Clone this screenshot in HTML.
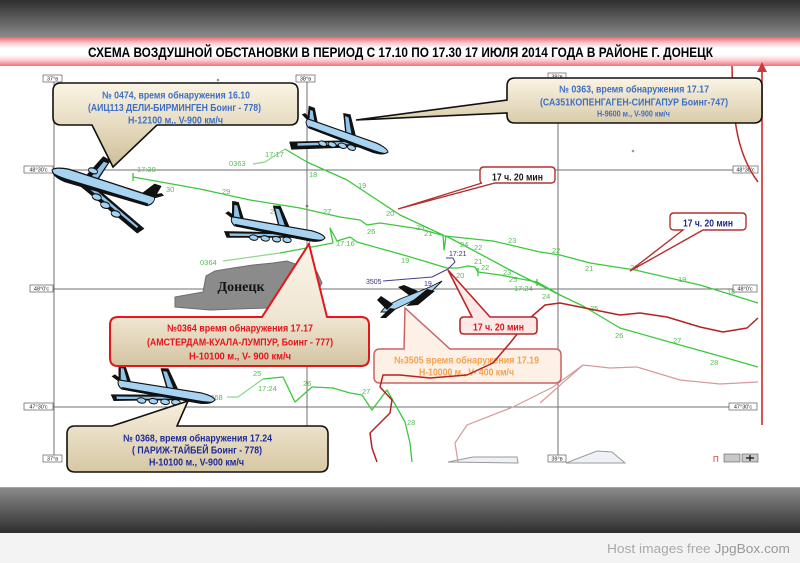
<!DOCTYPE html>
<html><head><meta charset="utf-8"><style>
html,body{margin:0;padding:0;width:800px;height:563px;overflow:hidden;background:#fff}
svg{display:block}
</style></head><body>
<svg width="800" height="563" viewBox="0 0 800 563" xmlns="http://www.w3.org/2000/svg" font-family="'Liberation Sans', sans-serif">
<defs>
<linearGradient id="gTop" x1="0" y1="0" x2="0" y2="1"><stop offset="0" stop-color="#2e2e2e"/><stop offset="1" stop-color="#8a8a8a"/></linearGradient>
<linearGradient id="gBand" x1="0" y1="0" x2="0" y2="1"><stop offset="0" stop-color="#ee5f6c"/><stop offset="0.22" stop-color="#fbd0d3"/><stop offset="0.4" stop-color="#ffffff"/><stop offset="0.62" stop-color="#ffffff"/><stop offset="0.8" stop-color="#fbcdd0"/><stop offset="1" stop-color="#f0707b"/></linearGradient>
<linearGradient id="gBot" x1="0" y1="0" x2="0" y2="1"><stop offset="0" stop-color="#8c8c8c"/><stop offset="1" stop-color="#2e2e2e"/></linearGradient>
<linearGradient id="gB1" gradientUnits="userSpaceOnUse" x1="0" y1="83" x2="0" y2="168"><stop offset="0" stop-color="#fbf4e4"/><stop offset="0.5" stop-color="#e6dbc0"/><stop offset="1" stop-color="#cdbd97"/></linearGradient>
<linearGradient id="gB2" gradientUnits="userSpaceOnUse" x1="0" y1="78" x2="0" y2="124"><stop offset="0" stop-color="#fbf4e4"/><stop offset="1" stop-color="#d9cba8"/></linearGradient>
<linearGradient id="gB3" gradientUnits="userSpaceOnUse" x1="0" y1="244" x2="0" y2="367"><stop offset="0" stop-color="#fbf5ea"/><stop offset="0.6" stop-color="#efe6d2"/><stop offset="1" stop-color="#d3c3a0"/></linearGradient>
<linearGradient id="gB4" gradientUnits="userSpaceOnUse" x1="0" y1="401" x2="0" y2="473"><stop offset="0" stop-color="#f8f0de"/><stop offset="1" stop-color="#d6c7a3"/></linearGradient>
</defs>

<rect x="0" y="0" width="800" height="37" fill="url(#gTop)"/>
<rect x="0" y="37" width="800" height="29" fill="url(#gBand)"/>
<rect x="0" y="66" width="800" height="421" fill="#ffffff"/>
<rect x="0" y="487" width="800" height="46" fill="url(#gBot)"/>
<line x1="0" y1="487.5" x2="800" y2="487.5" stroke="#a5a5a5" stroke-width="1"/>
<rect x="0" y="533" width="800" height="30" fill="#f3f3f3"/>
<text x="607" y="553" font-size="13" fill="#a9a9a9" textLength="183" lengthAdjust="spacingAndGlyphs">Host images free <tspan fill="#999">JpgBox.com</tspan></text>

<text x="88" y="57" font-size="14" font-weight="bold" fill="#000" textLength="625" lengthAdjust="spacingAndGlyphs">СХЕМА ВОЗДУШНОЙ ОБСТАНОВКИ В ПЕРИОД С 17.10  ПО 17.30 17 ИЮЛЯ 2014 ГОДА В РАЙОНЕ Г. ДОНЕЦК</text>

<g stroke="#707070" stroke-width="1" fill="none">
<line x1="54" y1="82" x2="54" y2="455"/>
<line x1="307" y1="82" x2="307" y2="455"/>
<line x1="558" y1="80" x2="558" y2="455"/>
<line x1="53" y1="170" x2="733" y2="170"/>
<line x1="53" y1="289" x2="733" y2="289"/>
<line x1="53" y1="407" x2="729" y2="407"/>
</g>
<g font-size="5.5" text-anchor="middle" fill="#222">
<rect x="43" y="75" width="19" height="7" fill="#fff" stroke="#444" stroke-width="0.6"/><text x="52.5" y="80.5">37°в</text>
<rect x="296" y="75" width="19" height="7" fill="#fff" stroke="#444" stroke-width="0.6"/><text x="305.5" y="80.5">38°в</text>
<rect x="548" y="73" width="18" height="7" fill="#fff" stroke="#444" stroke-width="0.6"/><text x="557" y="78.5">39°в</text>
<rect x="24" y="166" width="29" height="7" fill="#fff" stroke="#444" stroke-width="0.6"/><text x="38.5" y="171.5">48°30'с</text>
<rect x="30" y="285" width="23" height="7" fill="#fff" stroke="#444" stroke-width="0.6"/><text x="41.5" y="290.5">48°0'с</text>
<rect x="24" y="403" width="29" height="7" fill="#fff" stroke="#444" stroke-width="0.6"/><text x="38.5" y="408.5">47°30'с</text>
<rect x="733" y="166" width="25" height="7" fill="#fff" stroke="#444" stroke-width="0.6"/><text x="745.5" y="171.5">48°30'с</text>
<rect x="733" y="285" width="24" height="7" fill="#fff" stroke="#444" stroke-width="0.6"/><text x="745" y="290.5">48°0'с</text>
<rect x="729" y="403" width="28" height="7" fill="#fff" stroke="#444" stroke-width="0.6"/><text x="743" y="408.5">47°30'с</text>
<rect x="43" y="455" width="19" height="7" fill="#fff" stroke="#444" stroke-width="0.6"/><text x="52.5" y="460.5">37°в</text>
<rect x="548" y="455" width="18" height="7" fill="#fff" stroke="#444" stroke-width="0.6"/><text x="557" y="460.5">39°в</text>
</g>
<circle cx="218" cy="80" r="1.3" fill="#999"/>
<circle cx="633" cy="151" r="1.3" fill="#999"/>
<circle cx="307" cy="206" r="1.3" fill="#777"/>

<path d="M448,462 L473,457 L517,457 L518,463 Z" fill="#eef2f7" stroke="#999" stroke-width="1"/>
<path d="M566,463 L597,451 L612,452 L625,463 Z" fill="#eef2f7" stroke="#999" stroke-width="1"/>
<text x="713" y="462" font-size="8" fill="#d03030">П</text>
<rect x="724" y="454" width="16" height="8" fill="#c8c8c8" stroke="#555" stroke-width="0.6"/>
<rect x="742" y="454" width="16" height="8" fill="#c8c8c8" stroke="#555" stroke-width="0.6"/>
<path d="M750,455 V461 M746,458 H754" stroke="#111" stroke-width="1.2"/>

<path d="M175,297 L203,292 L206,276 L215,271 L233,268 L253,265 L273,263 L287,261 L317,272 L322,283 L313,300 L267,308 L210,310 L175,307 Z" fill="#8b8b8b" stroke="#6d6d6d" stroke-width="1"/>
<text x="241" y="291" font-family="'Liberation Serif', serif" font-weight="bold" font-size="14" text-anchor="middle" fill="#111">Донецк</text>

<line x1="762" y1="68" x2="762" y2="425" stroke="#cc2a2a" stroke-width="1.6"/>
<path d="M762,62 L757,72 L767,72 Z" fill="#cc3a3a"/>
<path d="M732,66 C733,110 734,150 758,182" fill="none" stroke="#c02828" stroke-width="1.5"/>
<path d="M540,403 L583,365 L610,368 L637,367 L680,380 L720,384 L758,382" fill="none" stroke="#d69a9a" stroke-width="1.2"/>
<path d="M458,462 L455,443 L467,425 L513,407 L553,387 L583,365" fill="none" stroke="#d69a9a" stroke-width="1.2"/>

<g fill="none" stroke-width="1.3" stroke-linejoin="round">
<path stroke="#3cc83c" d="M133,177 L200,189 L250,200 L300,208 L340,217 L360,220 L367,225 L380,223 L420,229 L445,236 L493,241 L540,252 L560,255 L590,263 L635,270 L700,285 L758,303"/>
<path stroke="#3cc83c" d="M133,173 L133,181"/>
<path stroke="#8fd68f" d="M253,164 L265,162 L285,149"/>
<path stroke="#3cc83c" d="M285,149 L307,162 L347,180 L400,215 L443,235 L444,250 L446,236 L467,247 L510,270 L560,295 L583,306 L620,328 L673,343 L723,357 L758,367"/>
<path stroke="#8fd68f" d="M223,261 L280,253"/>
<path stroke="#3cc83c" d="M280,253 L333,243 L330,228 L337,241 L350,237 L357,242 L407,256 L447,268 L458,268 L468,266 L475,267 L478,272 L500,275 L537,282 L560,295"/>
<path stroke="#3cc83c" d="M478,268 L478,276 M537,279 L537,286"/>
<path stroke="#8fd68f" d="M227,397 L238,397 L263,379"/>
<path stroke="#3cc83c" d="M263,379 L283,377 L295,402 L312,387 L333,388 L350,393 L362,395 L372,410 L387,390 L405,422 L410,443 L412,462"/>
<path stroke="#4a3a8c" stroke-width="1" d="M383,281 L432,277 L448,269 L455,262 L453,258 L446,258"/>
</g>

<g font-size="7.5" fill="#55bd55">
<text x="137" y="172">17:30</text>
<text x="166" y="192">30</text>
<text x="222" y="194">29</text>
<text x="270" y="214">28</text>
<text x="323" y="214">27</text>
<text x="367" y="234">26</text>
<text x="416" y="230">25</text>
<text x="424" y="236">21</text>
<text x="460" y="247">24</text>
<text x="474" y="250">22</text>
<text x="508" y="243">23</text>
<text x="552" y="253">22</text>
<text x="585" y="271">21</text>
<text x="630" y="270">20</text>
<text x="678" y="282">19</text>
<text x="727" y="294">18</text>
<text x="229" y="166">0363</text>
<text x="265" y="157">17:17</text>
<text x="309" y="177">18</text>
<text x="358" y="188">19</text>
<text x="386" y="216">20</text>
<text x="503" y="275">23</text>
<text x="509" y="282">25</text>
<text x="514" y="291">17:24</text>
<text x="542" y="299">24</text>
<text x="590" y="311">25</text>
<text x="615" y="338">26</text>
<text x="673" y="343">27</text>
<text x="710" y="365">28</text>
<text x="200" y="265">0364</text>
<text x="336" y="246">17:16</text>
<text x="401" y="263">19</text>
<text x="474" y="264">21</text>
<text x="481" y="270">22</text>
<text x="456" y="278">20</text>
<text x="206" y="400">0368</text>
<text x="253" y="376">25</text>
<text x="258" y="391">17:24</text>
<text x="303" y="386">26</text>
<text x="362" y="394">27</text>
<text x="407" y="425">28</text>
</g>
<g font-size="7" fill="#3a3088">
<text x="366" y="284">3505</text>
<text x="424" y="286">19</text>
<text x="449" y="256">17:21</text>
</g>

<!-- plane 0363 -->
<g transform="translate(388,152) rotate(19.4) scale(0.92,1.15) translate(-100,0)">
 <path d="M10,-1 L-2,-6 L1,-8 L16,-2 Z" fill="#111"/>
 <path d="M50,-2 L40,-19 L48,-20 L62,-3 Z" fill="#111"/>
 <path d="M51,-3 L43,-17 L47,-17 L57,-3 Z" fill="#8ec3ea"/>
 <path d="M6,-2 L2,-15 L9,-15 L18,-3 Z" fill="#111"/>
 <path d="M8,-3 L5,-12 L8,-12 L14,-3 Z" fill="#8ec3ea"/>
 <path d="M58,1 L-5,20 L0,26 L70,4 Z" fill="#111"/>
 <path d="M56,3 L4,19 L5,21 L60,4 Z" fill="#8ec3ea"/>
 <path d="M6,-4 L85,-4 Q98,-3 100,0 Q97,4 85,4.5 L10,3 Q3,0 6,-4 Z" fill="#a7d3f3" stroke="#111" stroke-width="1"/>
 <path d="M10,1.5 L85,2.5 Q94,2.5 99,1.5 Q96,4.5 85,5 L10,3.5 Z" fill="#111"/>
 <ellipse cx="30" cy="12" rx="4.5" ry="2.2" fill="#a7d3f3" stroke="#111" stroke-width="0.9"/>
 <ellipse cx="40" cy="10" rx="4.5" ry="2.2" fill="#a7d3f3" stroke="#111" stroke-width="0.9"/>
 <ellipse cx="51" cy="8" rx="4.5" ry="2.2" fill="#a7d3f3" stroke="#111" stroke-width="0.9"/>
 <ellipse cx="61" cy="7" rx="4.5" ry="2.2" fill="#a7d3f3" stroke="#111" stroke-width="0.9"/>
</g>
<!-- plane 0364 -->
<g transform="translate(325,238) rotate(10) scale(0.95,1.2) translate(-100,0)">
 <path d="M4,-1 L-8,-6 L-5,-8 L10,-2 Z" fill="#111"/>
 <path d="M50,-2 L40,-19 L48,-20 L62,-3 Z" fill="#111"/>
 <path d="M51,-3 L43,-17 L47,-17 L57,-3 Z" fill="#8ec3ea"/>
 <path d="M0,-2 L-3,-17 L4,-17 L13,-3 Z" fill="#111"/>
 <path d="M2,-3 L0,-14 L3,-14 L9,-3 Z" fill="#8ec3ea"/>
 <path d="M58,1 L-6,9 L-2,14 L70,4 Z" fill="#111"/>
 <path d="M56,3 L0,10 L1,12 L60,4 Z" fill="#8ec3ea"/>
 <path d="M0,-4 L85,-4 Q98,-3 100,0 Q97,4 85,4.5 L4,3 Q-2,0 0,-4 Z" fill="#a7d3f3" stroke="#111" stroke-width="1"/>
 <path d="M4,1.5 L85,2.5 Q94,2.5 99,1.5 Q96,4.5 85,5 L4,3.5 Z" fill="#111"/>
 <ellipse cx="26" cy="10" rx="4.5" ry="2.2" fill="#a7d3f3" stroke="#111" stroke-width="0.9"/>
 <ellipse cx="38" cy="9" rx="4.5" ry="2.2" fill="#a7d3f3" stroke="#111" stroke-width="0.9"/>
 <ellipse cx="50" cy="8" rx="4.5" ry="2.2" fill="#a7d3f3" stroke="#111" stroke-width="0.9"/>
 <ellipse cx="61" cy="7" rx="4.5" ry="2.2" fill="#a7d3f3" stroke="#111" stroke-width="0.9"/>
</g>
<!-- plane 0368 -->
<g transform="translate(215,400) rotate(9) scale(0.98,1.2) translate(-100,0)">
 <path d="M4,-1 L-8,-6 L-5,-8 L10,-2 Z" fill="#111"/>
 <path d="M50,-2 L40,-19 L48,-20 L62,-3 Z" fill="#111"/>
 <path d="M51,-3 L43,-17 L47,-17 L57,-3 Z" fill="#8ec3ea"/>
 <path d="M0,-2 L-3,-17 L4,-17 L13,-3 Z" fill="#111"/>
 <path d="M2,-3 L0,-14 L3,-14 L9,-3 Z" fill="#8ec3ea"/>
 <path d="M58,1 L-6,9 L-2,14 L70,4 Z" fill="#111"/>
 <path d="M56,3 L0,10 L1,12 L60,4 Z" fill="#8ec3ea"/>
 <path d="M0,-4 L85,-4 Q98,-3 100,0 Q97,4 85,4.5 L4,3 Q-2,0 0,-4 Z" fill="#a7d3f3" stroke="#111" stroke-width="1"/>
 <path d="M4,1.5 L85,2.5 Q94,2.5 99,1.5 Q96,4.5 85,5 L4,3.5 Z" fill="#111"/>
 <ellipse cx="26" cy="10" rx="4.5" ry="2.2" fill="#a7d3f3" stroke="#111" stroke-width="0.9"/>
 <ellipse cx="38" cy="9" rx="4.5" ry="2.2" fill="#a7d3f3" stroke="#111" stroke-width="0.9"/>
 <ellipse cx="50" cy="8" rx="4.5" ry="2.2" fill="#a7d3f3" stroke="#111" stroke-width="0.9"/>
 <ellipse cx="61" cy="7" rx="4.5" ry="2.2" fill="#a7d3f3" stroke="#111" stroke-width="0.9"/>
</g>
<!-- plane 0474 -->
<g transform="translate(52,170) rotate(18) scale(-1.06,1.7) translate(-100,0)">
 <path d="M4,-1 L-8,-6 L-5,-7 L10,-2 Z" fill="#111"/>
 <path d="M56,-2 L50,-16 L58,-17 L68,-3 Z" fill="#111"/>
 <path d="M57,-3 L52,-14 L56,-14 L63,-3 Z" fill="#8ec3ea"/>
 <path d="M0,-2 L-3,-11 L4,-11 L13,-3 Z" fill="#111"/>
 <path d="M58,1 L0,16 L5,20 L70,4 Z" fill="#111"/>
 <path d="M56,3 L6,16 L7,17 L60,4 Z" fill="#8ec3ea"/>
 <path d="M0,-3.5 L85,-3.5 Q98,-2.5 100,0 Q97,3.5 85,4 L4,2.5 Q-2,0 0,-3.5 Z" fill="#a7d3f3" stroke="#111" stroke-width="0.8"/>
 <path d="M4,1.2 L85,2.2 Q94,2.2 99,1.2 Q96,4 85,4.5 L4,3 Z" fill="#111"/>
 <ellipse cx="30" cy="13" rx="4.5" ry="1.8" fill="#a7d3f3" stroke="#111" stroke-width="0.7"/>
 <ellipse cx="42" cy="10" rx="4.5" ry="1.8" fill="#a7d3f3" stroke="#111" stroke-width="0.7"/>
 <ellipse cx="52" cy="7" rx="4.5" ry="1.8" fill="#a7d3f3" stroke="#111" stroke-width="0.7"/>
 <ellipse cx="63" cy="-7" rx="4.5" ry="1.6" fill="#a7d3f3" stroke="#111" stroke-width="0.7"/>
</g>
<!-- fighter -->
<g>
 <path d="M418,291 L404,285 L398,287 L410,296 Z" fill="#111"/>
 <path d="M442,281 L430,287 L400,299 L386,306 L381,312 L389,312 L404,305 L432,291 Z" fill="#a7d3f3" stroke="#111" stroke-width="0.9"/>
 <path d="M427,289 L406,306 L418,305 L435,291 Z" fill="#111"/>
 <path d="M393,304 L381,296 L377,300 L387,310 Z" fill="#111"/>
 <path d="M390,308 L380,318 L386,318 L396,309 Z" fill="#111"/>
</g>

<path d="M61,83 H290 Q298,83 298,91 V117 Q298,125 290,125 H157 L113,167 L92,125 H61 Q53,125 53,117 V91 Q53,83 61,83 Z" fill="url(#gB1)" stroke="#111" stroke-width="1.6"/>
<g font-weight="bold" fill="#3d6fc4" font-size="10">
<text x="102" y="98.5" textLength="148" lengthAdjust="spacingAndGlyphs">№ 0474, время обнаружения 16.10</text>
<text x="88" y="111" textLength="173" lengthAdjust="spacingAndGlyphs">(АИЦ113 ДЕЛИ-БИРМИНГЕН Боинг - 778)</text>
<text x="128" y="123.5" textLength="95" lengthAdjust="spacingAndGlyphs">H-12100 м., V-900 км/ч</text>
</g>

<path d="M515,78 H754 Q762,78 762,86 V115 Q762,123 754,123 H515 Q507,123 507,115 V113 L356,120 L507,100 V86 Q507,78 515,78 Z" fill="url(#gB2)" stroke="#111" stroke-width="1.6"/>
<g font-weight="bold" fill="#3d6fc4">
<text x="559" y="92.5" font-size="10" textLength="150" lengthAdjust="spacingAndGlyphs">№ 0363, время обнаружения 17.17</text>
<text x="540" y="105.5" font-size="10" textLength="188" lengthAdjust="spacingAndGlyphs">(СА351КОПЕНГАГЕН-СИНГАПУР Боинг-747)</text>
<text x="597" y="116.5" font-size="8" textLength="73" lengthAdjust="spacingAndGlyphs">H-9600 м., V-900 км/ч</text>
</g>

<path d="M118,317 H262 L309,244 L327,317 H361 Q369,317 369,325 V358 Q369,366 361,366 H118 Q110,366 110,358 V325 Q110,317 118,317 Z" fill="url(#gB3)" stroke="#e4151b" stroke-width="2"/>
<g font-weight="bold" fill="#e4141c" font-size="10">
<text x="167" y="331.5" textLength="146" lengthAdjust="spacingAndGlyphs">№0364 время обнаружения 17.17</text>
<text x="147" y="345.5" textLength="186" lengthAdjust="spacingAndGlyphs">(АМСТЕРДАМ-КУАЛА-ЛУМПУР, Боинг - 777)</text>
<text x="189" y="359.5" textLength="102" lengthAdjust="spacingAndGlyphs">H-10100 м., V- 900 км/ч</text>
</g>

<path d="M75,426 H112 L188,401 L177,426 H320 Q328,426 328,434 V464 Q328,472 320,472 H75 Q67,472 67,464 V434 Q67,426 75,426 Z" fill="url(#gB4)" stroke="#111" stroke-width="1.6"/>
<g font-weight="bold" fill="#1c2a9c" font-size="10">
<text x="123" y="441.5" textLength="149" lengthAdjust="spacingAndGlyphs">№ 0368, время обнаружения 17.24</text>
<text x="132" y="453.5" textLength="130" lengthAdjust="spacingAndGlyphs">( ПАРИЖ-ТАЙБЕЙ Боинг - 778)</text>
<text x="149" y="465.5" textLength="95" lengthAdjust="spacingAndGlyphs">H-10100 м., V-900 км/ч</text>
</g>

<path d="M380,349 H404 L405,308 L450,349 H555 Q561,349 561,355 V377 Q561,383 555,383 H380 Q374,383 374,377 V355 Q374,349 380,349 Z" fill="#fdf0e6" stroke="#c86464" stroke-width="1.5"/>
<g font-weight="bold" fill="#f4a24c" font-size="10">
<text x="394" y="363.5" textLength="145" lengthAdjust="spacingAndGlyphs">№3505 время обнаружения 17.19</text>
<text x="419" y="375.5" textLength="95" lengthAdjust="spacingAndGlyphs">H-10000 м., V- 400 км/ч</text>
</g>

<path d="M758,318 L747,328 L723,332 L700,327 L667,317 L640,313 L620,315 L580,307 L560,303 L545,305 L530,318 L510,343 L493,363 L467,375 L430,378 L400,375 L383,375 L380,387 L392,400 L390,413 L370,433 L372,448 L377,462" fill="none" stroke="#b52222" stroke-width="1.5" stroke-linejoin="round"/>

<path d="M484,167 H551 Q555,167 555,171 V179 Q555,183 551,183 H495 L398,209 L482,183 Q480,183 480,179 V171 Q480,167 484,167 Z" fill="#ffffff" stroke="#b53030" stroke-width="1.4"/>
<text x="492" y="180.5" font-size="10" font-weight="bold" fill="#1a1a1a" textLength="51" lengthAdjust="spacingAndGlyphs">17 ч. 20 мин</text>

<path d="M674,213 H742 Q746,213 746,217 V226 Q746,230 742,230 H703 L630,271 L683,230 H674 Q670,230 670,226 V217 Q670,213 674,213 Z" fill="#ffffff" stroke="#b53030" stroke-width="1.4"/>
<text x="683" y="226.5" font-size="10" font-weight="bold" fill="#1e2a8a" textLength="50" lengthAdjust="spacingAndGlyphs">17 ч. 20 мин</text>

<path d="M464,317 H472 L448,270 L490,317 H533 Q537,317 537,321 V330 Q537,334 533,334 H464 Q460,334 460,330 V321 Q460,317 464,317 Z" fill="#fde8e8" stroke="#b82828" stroke-width="1.6"/>
<text x="473" y="330.5" font-size="10" font-weight="bold" fill="#d61a1a" textLength="51" lengthAdjust="spacingAndGlyphs">17 ч. 20 мин</text>
</svg>
</body></html>
